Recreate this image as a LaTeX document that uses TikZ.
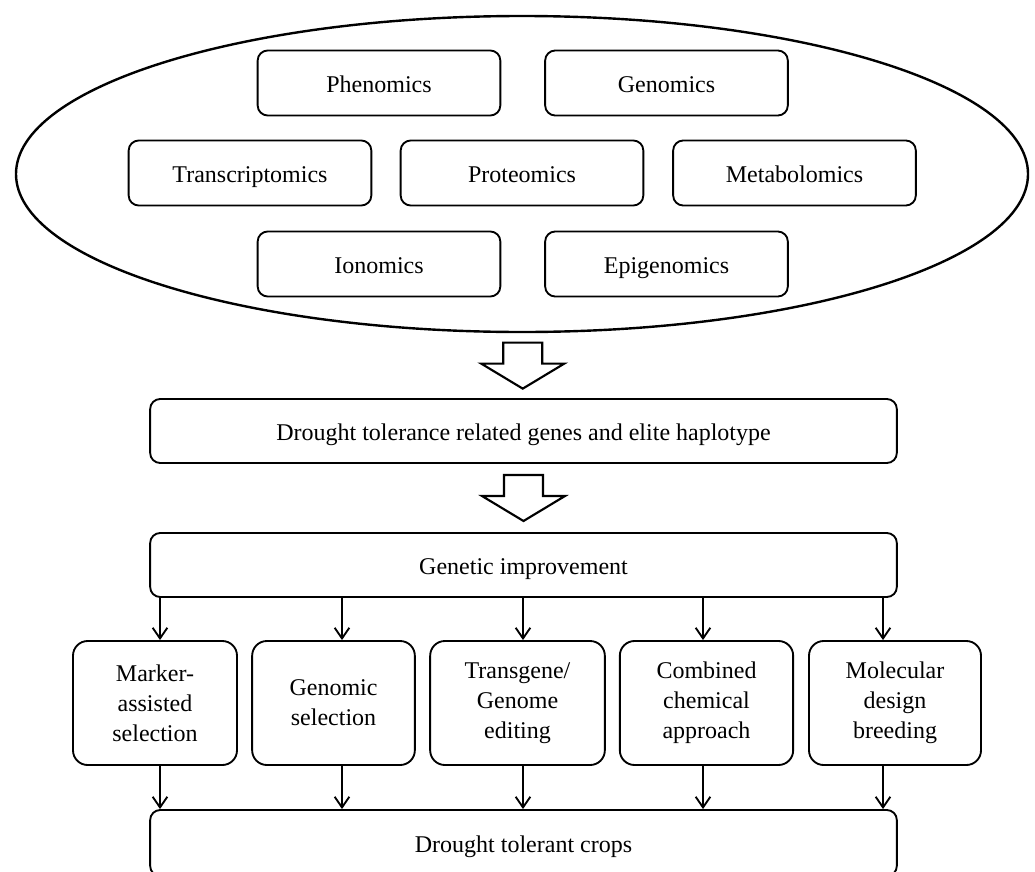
\documentclass[tikz,border=0pt]{standalone}
\usepackage{fontspec}
\setmainfont{Liberation Serif}
\usetikzlibrary{positioning}
\usetikzlibrary{shapes.geometric}
\usetikzlibrary{arrows.meta}
\usetikzlibrary{calc}
\tikzset{
	every node/.style = {font=\fontsize{18}{22.5}\selectfont},
	omicbox/.style = {draw, line width=1.4pt, rounded corners=7.5pt, minimum width=182pt, minimum height=48.75pt, inner sep=0pt, text height=13.5pt, text depth=0pt},
	widebox/.style = {draw, line width=1.4pt, rounded corners=7.5pt, minimum width=560pt, minimum height=48pt, inner sep=0pt, text height=13.5pt, text depth=0pt},
	methodbox/.style = {draw, line width=1.4pt, rounded corners=11pt, minimum height=93pt, align=center, inner sep=0pt},
	arr/.style = {-{Straight Barb[length=8pt, width=11pt]}, line width=1.4pt},
	fat/.style = {draw, line width=1.6pt, line join=miter}
}

\begin{document}
\begin{tikzpicture}[x=0.75pt, y=-0.75pt]
		\useasboundingbox (0,0) rectangle (1035,871);
		% omics
		\node[draw, ellipse, line width=1.8pt, minimum width=759pt, minimum height=237pt, inner sep=0pt] (omics) at (522,174) {};
		\node[omicbox] (phen) at (379,83) {Phenomics};
		\node[omicbox] (gen) at (666.5,83) {Genomics};
		\node[omicbox] (trans) at (250,173) {Transcriptomics};
		\node[omicbox] (prot) at (522,173) {Proteomics};
		\node[omicbox] (meta) at (794.5,173) {Metabolomics};
		\node[omicbox] (ion) at (379,264) {Ionomics};
		\node[omicbox] (epi) at (666.5,264) {Epigenomics};
		
		% genes
		\node[widebox] (genes) at (523.5,431) {Drought tolerance related genes and elite haplotype};
		\node[widebox] (improve) at (523.5,565) {Genetic improvement};
		
		% methods
		\node[methodbox, minimum width=123pt] (b1) at (155,703) {Marker-\\assisted\\selection};
		\node[methodbox, minimum width=122pt] (b2) at (333.5,703) {Genomic\\selection};
		\node[methodbox, minimum width=131pt] (b3) at (517.5,703) {Transgene/\\Genome\\editing};
		\node[methodbox, minimum width=130pt] (b4) at (706.5,703) {Combined\\chemical\\approach};
		\node[methodbox, minimum width=129pt] (b5) at (895,703) {Molecular\\design\\breeding};
		
		\node[widebox, minimum height=49.5pt] (crops) at (523.5,843) {Drought tolerant crops};
		
		% hollow arrows
		\foreach \a/\b in {omics/genes, genes/improve}
			\draw[fat] ($(\a.south)!0.5!(\b.north)$) ++(-19.5,-23) -- ++(39,0) -- ++(0,21) -- ++(22,0)
				-- ++(-41.5,25) -- ++(-41.5,-25) -- ++(22,0) -- cycle;
		
		% thin arrows
		\foreach \n/\d in {b1/5, b2/8.5, b3/5.5, b4/-3.5, b5/-12}
		{
			\draw[arr] ($(\n.north |- improve.south)+(\d,0)$) -- ($(\n.north)+(\d,0)$);
			\draw[arr] ($(\n.south)+(\d,0)$) -- ($(\n.south |- crops.north)+(\d,0)$);
		}
	\end{tikzpicture}
\end{document}
